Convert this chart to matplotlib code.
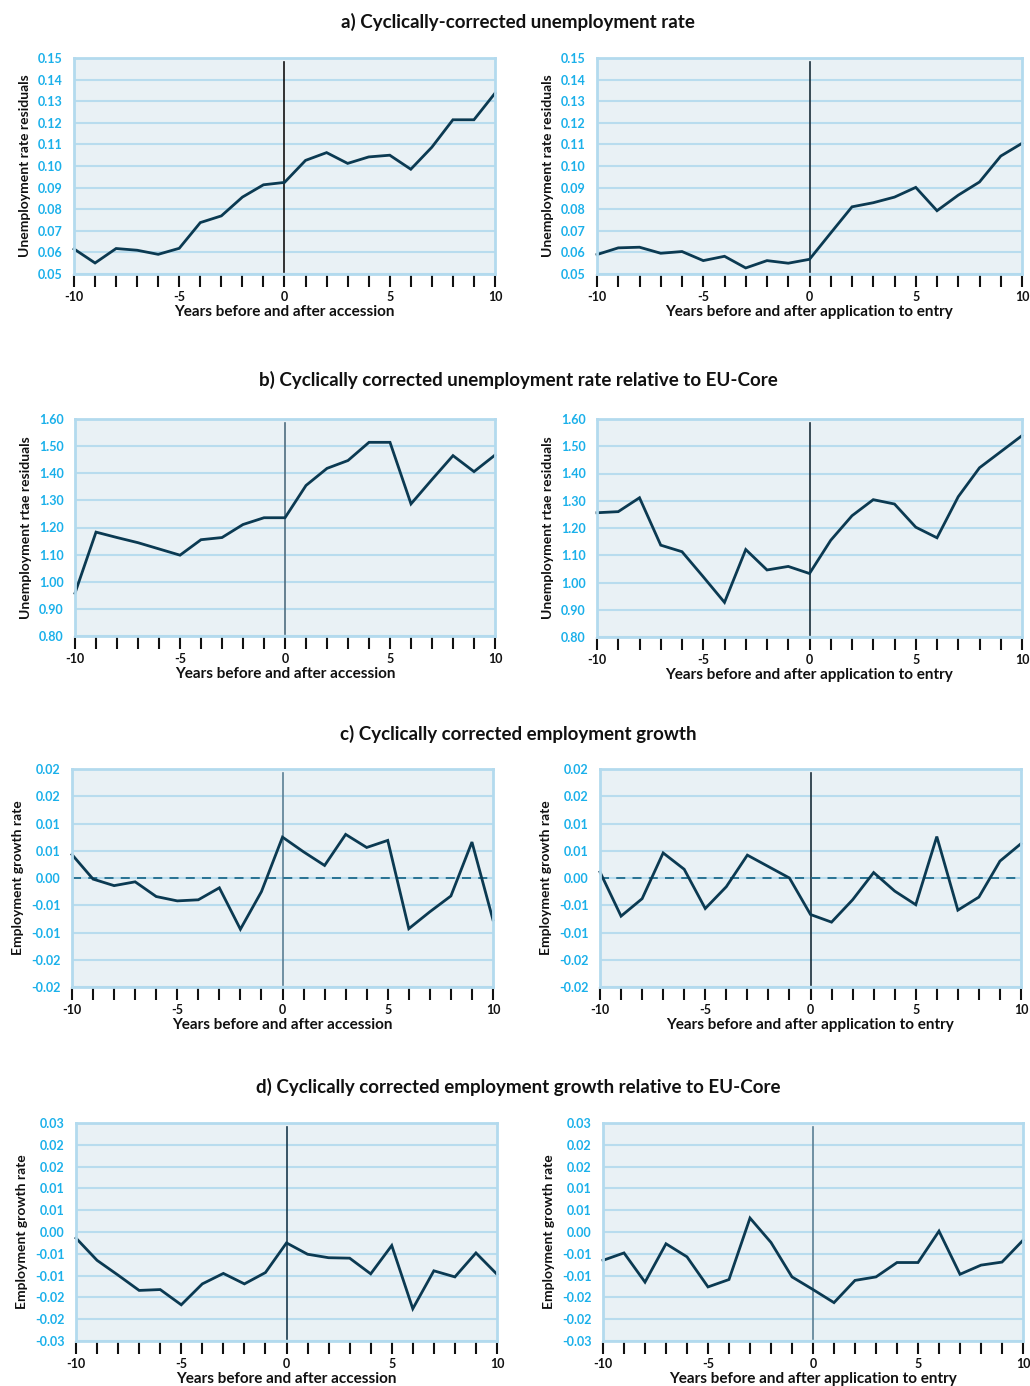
import numpy as np
import matplotlib
matplotlib.use("Agg")
import matplotlib.pyplot as plt

plt.rcParams['font.family'] = ['Lato', 'DejaVu Sans']
plt.rcParams['font.weight'] = 'bold'

years = list(range(-10, 11))

# a) unemployment rate residuals
a_accession = [0.0616, 0.0551, 0.0618, 0.0610, 0.0591, 0.0619, 0.0738, 0.0769, 0.0856, 0.0913, 0.0924,
               0.1026, 0.1062, 0.1012, 0.1042, 0.1050, 0.0985, 0.1087, 0.1214, 0.1214, 0.1337]
a_application = [0.0590, 0.0621, 0.0624, 0.0596, 0.0604, 0.0562, 0.0582, 0.0528, 0.0562, 0.0550, 0.0568,
                 0.0690, 0.0811, 0.0830, 0.0856, 0.0901, 0.0793, 0.0865, 0.0926, 0.1046, 0.1105]
# b) relative to EU-Core
b_accession = [0.958, 1.183, 1.163, 1.144, 1.121, 1.098, 1.155, 1.163, 1.211, 1.236, 1.236,
               1.355, 1.418, 1.447, 1.514, 1.514, 1.287, 1.377, 1.465, 1.406, 1.467]
b_application = [1.256, 1.260, 1.311, 1.137, 1.113, 1.021, 0.927, 1.121, 1.046, 1.059, 1.033,
                 1.155, 1.245, 1.304, 1.288, 1.203, 1.164, 1.315, 1.421, 1.480, 1.539]
# c) employment growth
c_accession = [0.0043, -0.0002, -0.0014, -0.0007, -0.0034, -0.0042, -0.0040, -0.0018, -0.0094, -0.0025, 0.0075,
               0.0048, 0.0023, 0.0080, 0.0056, 0.0069, -0.0093, -0.0062, -0.0033, 0.0066, -0.0077]
c_application = [0.0011, -0.0070, -0.0038, 0.0046, 0.0016, -0.0056, -0.0016, 0.0042, 0.0021, 0.0000, -0.0067,
                 -0.0081, -0.0040, 0.0010, -0.0024, -0.0049, 0.0076, -0.0059, -0.0035, 0.0031, 0.0063]
# d) employment growth relative to EU-Core
d_accession = [-0.0014, -0.0065, -0.0099, -0.0134, -0.0132, -0.0167, -0.0119, -0.0095, -0.0119, -0.0093, -0.0025,
               -0.0051, -0.0059, -0.0060, -0.0096, -0.0031, -0.0176, -0.0089, -0.0103, -0.0048, -0.0097]
d_application = [-0.0065, -0.0048, -0.0115, -0.0027, -0.0057, -0.0126, -0.0109, 0.0032, -0.0024, -0.0103, -0.0132,
                 -0.0162, -0.0111, -0.0103, -0.0070, -0.0070, 0.0002, -0.0097, -0.0076, -0.0069, -0.0019]

titles = ["a) Cyclically-corrected unemployment rate",
          "b) Cyclically corrected unemployment rate relative to EU-Core",
          "c) Cyclically corrected employment growth",
          "d) Cyclically corrected employment growth relative to EU-Core"]
ylabels = ["Unemployment rate residuals", "Unemployment rtae residuals",
           "Employment growth rate", "Employment growth rate"]
xlabels = ["Years before and after accession", "Years before and after application to entry"]

a_ticks = [0.05, 0.06, 0.07, 0.08, 0.09, 0.10, 0.11, 0.12, 0.13, 0.14, 0.15]
a_labels = ["0.05", "0.06", "0.07", "0.08", "0.09", "0.10", "0.11", "0.12", "0.13", "0.14", "0.15"]
b_ticks = [0.8, 0.9, 1.0, 1.1, 1.2, 1.3, 1.4, 1.5, 1.6]
b_labels = ["0.80", "0.90", "1.00", "1.10", "1.20", "1.30", "1.40", "1.50", "1.60"]
c_ticks = [-0.02, -0.015, -0.01, -0.005, 0.0, 0.005, 0.01, 0.015, 0.02]
c_labels = ["-0.02", "-0.02", "-0.01", "-0.01", "0.00", "0.01", "0.01", "0.02", "0.02"]
d_ticks = [-0.025, -0.02, -0.015, -0.01, -0.005, 0.0, 0.005, 0.01, 0.015, 0.02, 0.025]
d_labels = ["-0.03", "-0.02", "-0.02", "-0.01", "-0.01", "0.00", "0.01", "0.01", "0.02", "0.02", "0.03"]

series = [(a_accession, a_application), (b_accession, b_application),
          (c_accession, c_application), (d_accession, d_application)]
yticks = [(a_ticks, a_labels), (b_ticks, b_labels), (c_ticks, c_labels), (d_ticks, d_labels)]

W, H = 1030, 1386
# pixel boxes: (left, right, top, bottom) per panel row, left and right column
boxes = [[(74, 495, 58, 274), (597, 1022, 58, 274)],
         [(75, 495, 419, 636), (597, 1022, 419, 637)],
         [(72, 493, 769, 987), (600, 1021, 769, 987)],
         [(76, 497, 1123, 1341), (603, 1023, 1123, 1341)]]
title_y = [22, 380, 734, 1087]
vline_colors = [["#111111", "#1a2e3a"], ["#4f6e80", "#1a2e3a"], ["#5b7f94", "#1a2e3a"], ["#1a3a4e", "#5b7f94"]]

bg = "#e9f1f5"
grid_c = "#b8dcee"
edge_c = "#b3daee"
line_c = "#0b3a52"
tick_c = "#1ab0ea"

fig = plt.figure(figsize=(W / 100, H / 100), dpi=100)

for r in range(4):
    fig.text(518 / W, 1 - title_y[r] / H, titles[r], ha='center', va='center',
             fontsize=13.5, fontweight='bold', color='#111111')
    for c in range(2):
        l, rt, t, b = boxes[r][c]
        ax = fig.add_axes([l / W, 1 - b / H, (rt - l) / W, (b - t) / H])
        ax.set_facecolor(bg)
        vals = series[r][c]
        tk, tl = yticks[r]
        ax.set_xlim(-10, 10)
        ax.set_ylim(tk[0], tk[-1])
        ax.set_yticks(tk)
        ax.set_yticklabels(tl)
        ax.yaxis.grid(True, color=grid_c, linewidth=1.5)
        ax.set_axisbelow(True)
        ax.axvline(0, color=vline_colors[r][c], linewidth=1.2, ymin=0.01, ymax=0.98)
        if r == 2:
            ax.axhline(0, color="#1d6a8c", linewidth=1.3, linestyle=(0, (5, 4)))
        ax.plot(years, vals, color=line_c, linewidth=2, solid_joinstyle='miter', clip_on=False)
        ax.set_xticks(years)
        ax.set_xticklabels([str(y) if y % 5 == 0 else "" for y in years])
        ax.tick_params(axis='x', length=9, width=1.5, color='#111111', labelsize=9,
                       labelcolor='#111111', pad=3)
        ax.tick_params(axis='y', length=0, labelsize=9, labelcolor=tick_c, pad=8)
        for s in ['top', 'left', 'right', 'bottom']:
            ax.spines[s].set_color(edge_c)
            ax.spines[s].set_linewidth(2)
        ax.set_xlabel(xlabels[c], fontsize=11, fontweight='bold', labelpad=2, color='#111111')
        ax.set_ylabel(ylabels[r], fontsize=10, fontweight='bold', labelpad=5, color='#111111')

fig.savefig("out.png", dpi=100)
